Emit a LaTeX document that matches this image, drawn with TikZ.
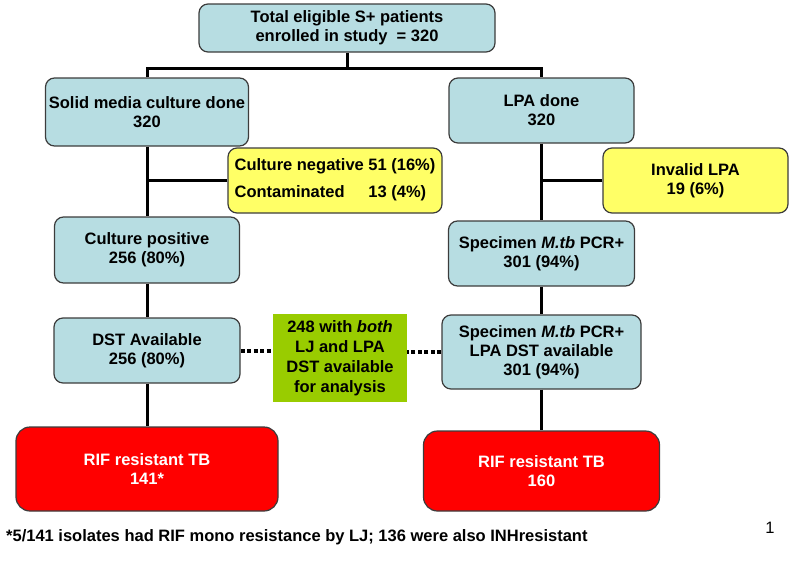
\documentclass[tikz,border=0pt]{standalone}
\usepackage{fontspec}
\setmainfont{Liberation Sans}

\definecolor{boxblue}{RGB}{183,221,226}
\definecolor{boxyellow}{RGB}{255,255,102}
\definecolor{boxgreen}{RGB}{153,204,0}
\definecolor{edgegray}{RGB}{60,60,60}

\tikzset{
    chart/.style={font=\bfseries\fontsize{16.5}{19}\selectfont, align=center, inner sep=1pt},
    bluebox/.style={chart, draw=edgegray, line width=1.2pt, fill=boxblue, rounded corners=9pt},
    yellowbox/.style={chart, draw=edgegray, line width=1.2pt, fill=boxyellow, rounded corners=9pt},
    redbox/.style={chart, draw=edgegray, line width=1.2pt, fill=red, text=white, rounded corners=14pt},
    greenbox/.style={chart, fill=boxgreen, font=\bfseries\fontsize{16.5}{20}\selectfont},
    link/.style={line width=3pt},
    dotlink/.style={line width=4pt, dash pattern=on 4pt off 2.5pt},
}

\begin{document}
\begin{tikzpicture}[x=1pt, y=-1pt]
    \useasboundingbox (0,0) rectangle (793,562); % 画布大小
    \node (total) at (347,28) [bluebox, minimum width=296, minimum height=48] {Total eligible S+ patients\\enrolled in study~ = 320}; % 总人数
    \node (solid) at (147,112) [bluebox, minimum width=203, minimum height=68] {Solid media culture done\\320}; % 左列
    \node (lpa) at (541.5,110.5) [bluebox, minimum width=185, minimum height=65] {LPA done\\320}; % 右列
    \node (neg) at (335,180.5) [yellowbox, minimum width=214, minimum height=65] {\begin{tabular}{@{}l@{\ }l@{}}Culture negative & 51 (16\%)\\[8pt] Contaminated & 13 (4\%)\end{tabular}}; % 阴性
    \node (invalid) at (695.5,180.5) [yellowbox, minimum width=185, minimum height=65] {Invalid LPA\\19 (6\%)}; % 无效
    \node (culpos) at (147,250) [bluebox, minimum width=185, minimum height=66] {Culture positive\\256 (80\%)}; % 培养阳性
    \node (pcr) at (541.5,253.5) [bluebox, minimum width=186, minimum height=65] {Specimen \textit{M.tb} PCR+\\301 (94\%)}; % PCR阳性
    \node (dst) at (147,350.5) [bluebox, minimum width=186, minimum height=65] {DST Available\\256 (80\%)}; % 左DST
    \node (both) at (340,358) [greenbox, minimum width=134, minimum height=88] {248 with \textit{both}\\LJ and LPA\\DST available\\for analysis}; % 中间绿框
    \node (pcrlpa) at (541.5,352) [bluebox, minimum width=199, minimum height=74] {Specimen \textit{M.tb} PCR+\\LPA DST available\\301 (94\%)}; % 右DST
    \node (rifl) at (147,469) [redbox, minimum width=262, minimum height=84] {RIF resistant TB\\141*}; % 左耐药
    \node (rifr) at (541.5,471) [redbox, minimum width=236, minimum height=80] {RIF resistant TB\\160}; % 右耐药
    \node (foot) at (5,537) [chart, anchor=west] {*5/141 isolates had RIF mono resistance by LJ; 136 were also INHresistant}; % 脚注
    \node (pagenum) at (770,528) [font=\fontsize{16.5}{19}\selectfont] {1}; % 页码

    \draw[link] (total.south) -- ++(0,16) coordinate (fork); % 分叉
    \draw[link] (solid.north) |- (fork) -| (lpa.north);
    \draw[link] (solid.south) -- (culpos.north);
    \draw[link] (culpos.south) -- (dst.north);
    \draw[link] (dst.south) -- (rifl.north);
    \draw[link] (lpa.south) -- (pcr.north);
    \draw[link] (pcr.south) -- (pcrlpa.north);
    \draw[link] (pcrlpa.south) -- (rifr.north);
    \draw[link] (neg.west) -- (neg.west -| solid.south); % 支线
    \draw[link] (invalid.west) -- (invalid.west -| lpa.south);
    \draw[dotlink] (dst.east) -- (dst.east -| both.west); % 虚线
    \draw[dotlink] (pcrlpa.west) -- (pcrlpa.west -| both.east);
\end{tikzpicture}
\end{document}
